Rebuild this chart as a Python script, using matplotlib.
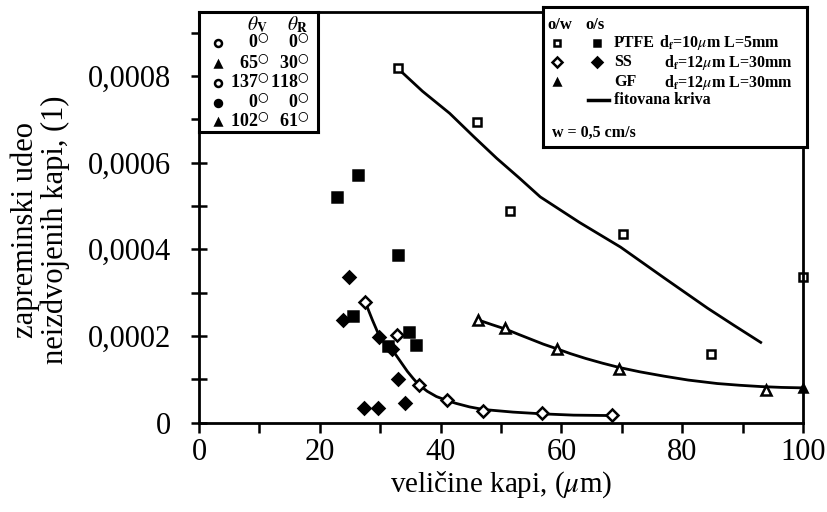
import matplotlib.pyplot as plt
from matplotlib.ticker import MultipleLocator, FuncFormatter

# PTFE  (o/w open squares, o/s filled squares)
ptfe_ow_x = [32.9, 46.1, 51.5, 70.2, 84.7, 100.0]
ptfe_ow_y = [0.000818, 0.000695, 0.000488, 0.000435, 0.000158, 0.000337]
ptfe_os_x = [22.9, 26.3, 32.9, 25.5, 34.7, 36.0, 31.3]
ptfe_os_y = [0.000521, 0.000572, 0.000387, 0.000246, 0.000208, 0.000179, 0.000177]

# SS (o/w open diamonds, o/s filled diamonds)
ss_ow_x = [27.5, 32.8, 36.4, 41.0, 47.1, 56.8, 68.4]
ss_ow_y = [0.000279, 0.000202, 0.000087, 0.000052, 0.000027, 0.000021, 0.000017]
ss_os_x = [24.9, 23.8, 29.8, 32.0, 32.9, 34.1, 27.4, 29.6]
ss_os_y = [0.000337, 0.000237, 0.000198, 0.000170, 0.000100, 0.000046, 0.000034, 0.000034]

# GF (o/w open triangles)
gf_ow_x = [46.2, 50.7, 59.3, 69.6, 93.9]
gf_ow_y = [0.000237, 0.000218, 0.000170, 0.000123, 0.000075]
gf_end_x = [100.0]
gf_end_y = [0.000080]

# fitted curves (fitovana kriva)
fit_ptfe_x = [32.9, 37.0, 41.5, 45.5, 49.3, 53.0, 56.5, 63.0, 69.8, 77.0, 84.2, 88.5, 93.0]
fit_ptfe_y = [0.000818, 0.000765, 0.000714, 0.000660, 0.000610, 0.000565, 0.000521, 0.000462,
              0.000405, 0.000334, 0.000264, 0.000225, 0.000185]
fit_ss_x = [27.5, 28.7, 29.9, 31.1, 32.4, 33.5, 34.5, 35.5, 36.4, 37.8, 39.3, 41.0, 42.6,
            44.8, 47.1, 52.0, 56.8, 62.0, 68.4]
fit_ss_y = [0.000279, 0.000237, 0.000198, 0.000177, 0.000160, 0.000138, 0.000118, 0.000101,
            0.000087, 0.000072, 0.000060, 0.000051, 0.000044, 0.000036, 0.000030, 0.000024,
            0.000020, 0.000017, 0.000016]
fit_gf_x = [46.2, 48.5, 50.7, 53.0, 55.0, 57.0, 59.3, 61.5, 64.0, 66.8, 69.6, 73.0, 77.0,
            81.0, 85.8, 89.5, 93.0, 96.5, 100.0]
fit_gf_y = [0.000237, 0.000226, 0.000216, 0.000203, 0.000192, 0.000181, 0.000170, 0.000159,
            0.000148, 0.000137, 0.000127, 0.000117, 0.000107, 0.000098, 0.000090, 0.000086,
            0.000083, 0.000081, 0.000080]

x_ticks = [0, 20, 40, 60, 80, 100]
y_ticks = [0, 0.0002, 0.0004, 0.0006, 0.0008]

# left table of contact angles
theta_v = ["0", "65", "137", "0", "102"]
theta_r = ["0", "30", "118", "0", "61"]
theta_markers = [("o", "none"), ("^", "k"), ("o", "none"), ("o", "k"), ("^", "k")]

# right legend
leg_names = ["PTFE", "SS", "GF"]
leg_params = [r"d$_\mathbf{f}$=10$\mu$m L=5mm", r"d$_\mathbf{f}$=12$\mu$m L=30mm",
              r"d$_\mathbf{f}$=12$\mu$m L=30mm"]
leg_ow = [("s", "none"), ("D", "none"), ("^", "k")]
leg_os = [("s", "k"), ("D", "k"), None]

W, H = 828, 512
serif = ["Liberation Serif", "DejaVu Serif"]
plt.rcParams["font.family"] = serif
plt.rcParams["mathtext.fontset"] = "stix"

fig = plt.figure(figsize=(W / 100, H / 100), dpi=100)
ax = fig.add_axes([199 / W, 1 - 422.5 / H, (803 - 199) / W, (422.5 - 12) / H])

mk = dict(linestyle="none", markeredgecolor="k", markeredgewidth=1.8, clip_on=False)
ax.plot(fit_ptfe_x, fit_ptfe_y, color="k", lw=2)
ax.plot(fit_ss_x, fit_ss_y, color="k", lw=2)
ax.plot(fit_gf_x, fit_gf_y, color="k", lw=2)
ax.plot(ptfe_ow_x, ptfe_ow_y, marker="s", markersize=6, markerfacecolor="white", **mk)
ax.plot(ptfe_os_x, ptfe_os_y, marker="s", markersize=7, markerfacecolor="k", **mk)
ax.plot(ss_ow_x, ss_ow_y, marker="D", markersize=6, markerfacecolor="white", **mk)
ax.plot(ss_os_x, ss_os_y, marker="D", markersize=6, markerfacecolor="k", **mk)
ax.plot(gf_ow_x, gf_ow_y, marker="^", markersize=7, markerfacecolor="white", **mk)
ax.plot(gf_end_x, gf_end_y, marker="^", markersize=6, markerfacecolor="k", **mk)

ax.set_xlim(0, 100)
ax.set_ylim(0, 0.000948)
ax.set_xticks(x_ticks)
ax.xaxis.set_minor_locator(MultipleLocator(10))
ax.set_yticks(y_ticks)
ax.yaxis.set_minor_locator(MultipleLocator(0.0001))
ax.yaxis.set_major_formatter(FuncFormatter(lambda v, p: "0" if v == 0 else f"{v:.4f}".replace(".", ",")))
ax.tick_params(axis="both", which="both", labelsize=22, width=1.8, color="k")
ax.tick_params(axis="x", which="both", direction="out", length=7, pad=4)
ax.tick_params(axis="y", which="both", direction="inout", length=12, pad=14)
for s in ax.spines.values():
    s.set_linewidth(2)
ax.spines["right"].set_visible(False)
ax.plot([1, 1], [0, 0.7], color="k", lw=2, transform=ax.transAxes, clip_on=False)

ax.set_xlabel(r"veličine kapi, ($\mu$m)", fontsize=21, labelpad=2)
ax.set_ylabel("zapreminski udeo\nneizdvojenih kapi, (1)", fontsize=22, linespacing=1.02)
ax.yaxis.set_label_coords(-0.214, 0.47)


def box_axes(x0, y0, x1, y1):
    b = fig.add_axes([x0 / W, 1 - y1 / H, (x1 - x0) / W, (y1 - y0) / H])
    b.set_xlim(x0, x1)
    b.set_ylim(y1, y0)
    b.set_xticks([])
    b.set_yticks([])
    for s in b.spines.values():
        s.set_linewidth(2.2)
    return b


deg = r"$^{\bigcirc}$"

# left box
lb = box_axes(199, 12, 318, 132)
lb.text(268, 25, r"$\theta_\mathbf{V}$", fontsize=14, ha="right", va="center")
lb.text(308, 25, r"$\theta_\mathbf{R}$", fontsize=14, ha="right", va="center")
rows_y = [43, 64, 83, 103, 122]
for i, y in enumerate(rows_y):
    m, fc = theta_markers[i]
    lb.plot([218], [y], marker=m, markersize=5, markerfacecolor=fc if fc != "none" else "white",
            markeredgecolor="k", markeredgewidth=1.8, linestyle="none")
    lb.text(269, y, theta_v[i] + deg, fontsize=13, fontweight="bold", ha="right", va="center")
    lb.text(309, y, theta_r[i] + deg, fontsize=13, fontweight="bold", ha="right", va="center")

# right box
rb = box_axes(543, 7, 807, 147)
rb.text(547, 25, "o/w", fontsize=12, fontweight="bold", ha="left", va="center")
rb.text(585, 25, "o/s", fontsize=12, fontweight="bold", ha="left", va="center")
leg_y = [43, 62, 82]
for i, y in enumerate(leg_y):
    m, fc = leg_ow[i]
    rb.plot([557], [y], marker=m, markersize=5, markerfacecolor=fc if fc != "none" else "white",
            markeredgecolor="k", markeredgewidth=1.8, linestyle="none")
    if leg_os[i] is not None:
        m2, fc2 = leg_os[i]
        rb.plot([597], [y], marker=m2, markersize=5, markerfacecolor=fc2,
                markeredgecolor="k", markeredgewidth=1.8, linestyle="none")
    rb.text(614, y, leg_names[i], fontsize=11.5, fontweight="bold", ha="left", va="center")
    rb.text(659 if i == 0 else 664, y, leg_params[i], fontsize=11.5, fontweight="bold",
            ha="left", va="center")
rb.plot([588, 609], [100, 100], color="k", lw=2.5)
rb.text(614, 100, "fitovana kriva", fontsize=11.5, fontweight="bold", ha="left", va="center")
rb.text(552, 133, "w = 0,5 cm/s", fontsize=11.5, fontweight="bold", ha="left", va="center")

fig.savefig("out.png", dpi=100)
